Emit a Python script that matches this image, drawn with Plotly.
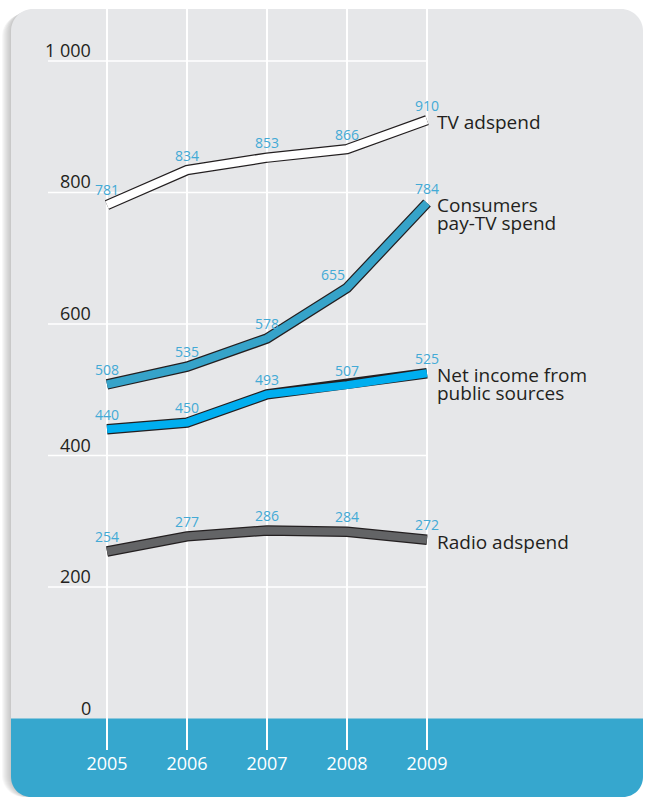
import plotly.graph_objects as go

# ---- data -------------------------------------------------------------
years = [2005, 2006, 2007, 2008, 2009]
tv_adspend = [781, 834, 853, 866, 910]
pay_tv_spend = [508, 535, 578, 655, 784]
public_income = [440, 450, 493, 507, 525]
radio_adspend = [254, 277, 286, 284, 272]

series_names = [
    ["TV adspend"],
    ["Consumers", "pay-TV spend"],
    ["Net income from", "public sources"],
    ["Radio adspend"],
]
series_values = [tv_adspend, pay_tv_spend, public_income, radio_adspend]
series_colors = ["#FFFFFF", "#36A3C9", "#00AEEF", "#636466"]

y_ticks = [200, 400, 600, 800, 1000]
y_tick_text = ["200", "400", "600", "800", "1 000"]
zero_label = "0"

# ---- page geometry ----------------------------------------------------
W, H = 649, 798
FONT = "Open Sans"
TEXT_DARK = "#231F20"
VALUE_BLUE = "#43AAD6"
PANEL_GREY = "#E6E7E9"
BAND_BLUE = "#36A7CE"

# axis scale: 80 px per year, 0.6575 px per unit, zero at 718.5 px
x_px0, x_step = 107.0, 80.0
y_px0, y_step = 718.5, 0.6575
plot_top_px, plot_bottom_px = 9.0, 750.0
x_range = [years[0] - x_px0 / x_step, years[0] + (W - x_px0) / x_step]
y_range = [(y_px0 - plot_bottom_px) / y_step, (y_px0 - plot_top_px) / y_step]


def rounded_path(x0, y0, x1, y1, r_tl, r_tr, r_br, r_bl):
    """SVG path (paper coordinates) of a rectangle given in pixels."""
    k = 0.5523

    def p(x, y):
        return f"{x / W:.5f},{1 - y / H:.5f}"

    d = [f"M{p(x0 + r_tl, y0)}", f"L{p(x1 - r_tr, y0)}"]
    if r_tr:
        d.append(f"C{p(x1 - r_tr + k * r_tr, y0)} {p(x1, y0 + r_tr - k * r_tr)} {p(x1, y0 + r_tr)}")
    d.append(f"L{p(x1, y1 - r_br)}")
    if r_br:
        d.append(f"C{p(x1, y1 - r_br + k * r_br)} {p(x1 - r_br + k * r_br, y1)} {p(x1 - r_br, y1)}")
    d.append(f"L{p(x0 + r_bl, y1)}")
    if r_bl:
        d.append(f"C{p(x0 + r_bl - k * r_bl, y1)} {p(x0, y1 - r_bl + k * r_bl)} {p(x0, y1 - r_bl)}")
    d.append(f"L{p(x0, y0 + r_tl)}")
    if r_tl:
        d.append(f"C{p(x0, y0 + r_tl - k * r_tl)} {p(x0 + r_tl - k * r_tl, y0)} {p(x0 + r_tl, y0)}")
    d.append("Z")
    return " ".join(d)


shapes = []
# soft drop shadow on the left of the card
for k in range(1, 10):
    shapes.append(dict(type="path", xref="paper", yref="paper", layer="below",
                       path=rounded_path(11 - k, 9 + k * 0.6, 643 - k, 797, 22, 22, 22, 22),
                       fillcolor="#7A7A7A", opacity=0.055, line=dict(width=0)))
# grey card
shapes.append(dict(type="path", xref="paper", yref="paper", layer="below",
                   path=rounded_path(11, 9, 643, 797, 22, 22, 22, 22),
                   fillcolor=PANEL_GREY, line=dict(width=0)))
# blue footer band starting at the zero line
shapes.append(dict(type="path", xref="paper", yref="paper", layer="below",
                   path=rounded_path(11, y_px0, 643, 797, 0, 0, 20, 20),
                   fillcolor=BAND_BLUE, line=dict(width=0)))
# horizontal grid lines, stopping at the last year
grid_left = years[0] - 59 / x_step
for v in y_ticks:
    shapes.append(dict(type="line", xref="x", yref="y", layer="below",
                       x0=grid_left, x1=years[-1], y0=v, y1=v,
                       line=dict(color="white", width=1.6)))

fig = go.Figure()

for vals, color in zip(series_values, series_colors):
    # dark outline drawn under the coloured stroke
    fig.add_trace(go.Scatter(x=years, y=vals, mode="lines", hoverinfo="skip",
                             line=dict(color="#231F20", width=10.5)))
    fig.add_trace(go.Scatter(x=years, y=vals, mode="lines", hoverinfo="skip",
                             line=dict(color=color, width=8)))

annotations = []
# value labels above every point (the steep 2008 pay-TV point gets its label nudged left)
for s, vals in enumerate(series_values):
    for i, (x, v) in enumerate(zip(years, vals)):
        steep = vals is pay_tv_spend and i == 3
        annotations.append(dict(x=x, y=v, xref="x", yref="y", text=str(v),
                                showarrow=False, yshift=13 if steep else 15,
                                xshift=-14 if steep else 0,
                                xanchor="center", yanchor="middle",
                                font=dict(family=FONT, size=14, color=VALUE_BLUE)))
# series names at the right end of each line
for names, vals in zip(series_names, series_values):
    for i, name in enumerate(names):
        annotations.append(dict(x=years[-1], y=vals[-1], xref="x", yref="y", text=name,
                                showarrow=False, xshift=8, yshift=-2 - i * 17.5,
                                xanchor="left", yanchor="middle",
                                font=dict(family=FONT, size=19, color=TEXT_DARK)))
# value axis labels, right aligned and sitting on top of their grid lines
for v, t in zip(y_ticks + [0], y_tick_text + [zero_label]):
    annotations.append(dict(x=grid_left, y=v, xref="x", yref="y", text=t,
                            showarrow=False, xshift=45, yshift=11,
                            xanchor="right", yanchor="middle",
                            font=dict(family=FONT, size=18, color=TEXT_DARK)))

fig.update_layout(
    width=W, height=H,
    margin=dict(l=0, r=0, t=0, b=0),
    paper_bgcolor="white",
    plot_bgcolor="rgba(0,0,0,0)",
    showlegend=False,
    shapes=shapes,
    annotations=annotations,
    xaxis=dict(range=x_range, domain=[0, 1], tickvals=years, ticktext=[str(y) for y in years],
               showgrid=True, gridcolor="white", gridwidth=1.6, zeroline=False,
               showline=False, ticks="", ticklabelstandoff=1,
               tickfont=dict(family=FONT, size=18, color="white"), fixedrange=True),
    yaxis=dict(range=y_range, domain=[1 - plot_bottom_px / H, 1 - plot_top_px / H],
               showgrid=False, zeroline=False, showticklabels=False, showline=False,
               fixedrange=True),
)

fig.write_html("out.html")
